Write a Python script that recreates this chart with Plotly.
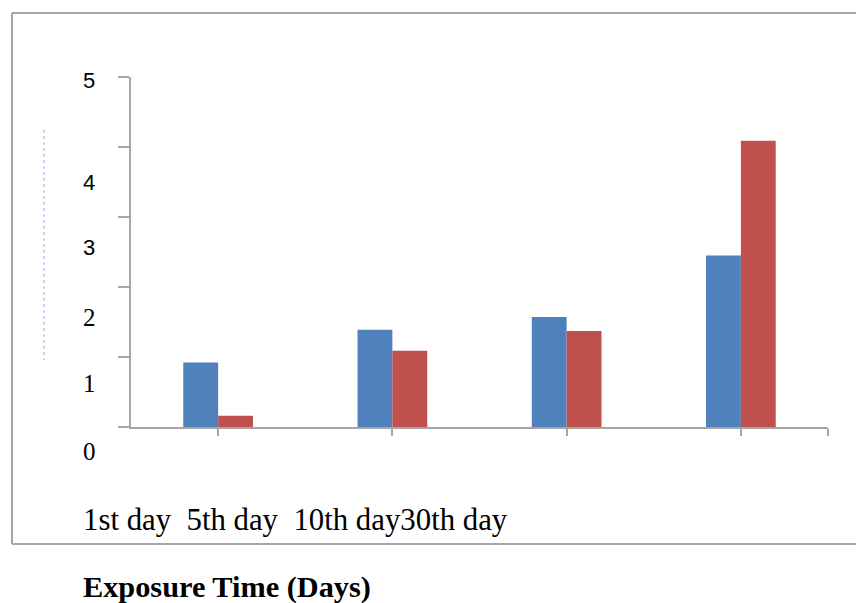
import plotly.graph_objects as go

categories = ["1st day", "5th day", "10th day", "30th day"]
series_a = [0.92, 1.39, 1.57, 2.45]
series_b = [0.16, 1.09, 1.37, 4.09]
y_ticks = [0, 1, 2, 3, 4, 5]
y_tick_text = ["0", "1", "2", "3", "4", "5"]
x_label_text = "1st day  5th day  10th day30th day"
x_title = "Exposure Time (Days)"

OFF = 8  # page body margin
W, H = 864 - OFF, 603 - OFF
L, R, T, B = 131 - OFF, 36, 77 - OFF, 176
pw, ph = W - L - R, H - T - B

def px(x):
    return (x - OFF - L) / pw

def py(y):
    return (H - B - (y - OFF)) / ph

xs = list(range(len(categories)))

fig = go.Figure()
fig.add_trace(go.Bar(x=xs, y=series_a, marker=dict(color="#4F81BD", line=dict(width=0)), name="A"))
fig.add_trace(go.Bar(x=xs, y=series_b, marker=dict(color="#C0504D", line=dict(width=0)), name="B"))

# y tick labels (offset like the original), screen pixel positions
label_pos = [451, 383, 317, 247, 182, 80]
fonts = [("Liberation Serif", 25)] * 3 + [("Liberation Sans", 22)] * 3
annotations = []
for t, yp, (f, s) in zip(y_tick_text, label_pos, fonts):
    annotations.append(dict(x=px(89), xref="paper", y=py(yp), yref="paper", text=t, showarrow=False,
                            font=dict(family=f, size=s, color="#000"), xanchor="center", yanchor="middle"))
annotations.append(dict(x=px(81), xref="paper", y=py(520), yref="paper", text=x_label_text, showarrow=False,
                        font=dict(family="Liberation Serif", size=30.8, color="#000"), xanchor="left", yanchor="middle"))
annotations.append(dict(x=px(81), xref="paper", y=py(587), yref="paper", text="<b>" + x_title + "</b>", showarrow=False,
                        font=dict(family="Liberation Serif", size=30.3, color="#000"), xanchor="left", yanchor="middle"))

shapes = [
    dict(type="line", xref="paper", yref="paper", x0=px(12), x1=px(880), y0=py(13), y1=py(13), line=dict(color="#A6A6A6", width=2)),
    dict(type="line", xref="paper", yref="paper", x0=px(12), x1=px(12), y0=py(13), y1=py(544), line=dict(color="#A6A6A6", width=2)),
    dict(type="line", xref="paper", yref="paper", x0=px(12), x1=px(880), y0=py(544), y1=py(544), line=dict(color="#A6A6A6", width=2)),
    dict(type="line", xref="paper", yref="paper", x0=px(44), x1=px(44), y0=py(130), y1=py(360), line=dict(color="#8DB3E2", width=1, dash="dot")),
]

fig.update_layout(
    width=W, height=H,
    margin=dict(l=L, r=R, t=T, b=B),
    paper_bgcolor="white", plot_bgcolor="white",
    barmode="group", bargap=0.6, bargroupgap=0,
    showlegend=False,
    annotations=annotations,
    shapes=shapes,
    xaxis=dict(range=[-0.5, 3.5], tickvals=[0, 1, 2, 3, 3.5], ticktext=["", "", "", "", ""],
               showline=True, linecolor="#A6A6A6", linewidth=2, ticks="outside", ticklen=7,
               tickcolor="#A6A6A6", tickwidth=2, showgrid=False, zeroline=False),
    yaxis=dict(range=[0, 5], tickvals=y_ticks, showticklabels=False,
               showline=True, linecolor="#A6A6A6", linewidth=2, ticks="outside", ticklen=11,
               tickcolor="#A6A6A6", tickwidth=2, showgrid=False, zeroline=False),
)

fig.write_html("out.html")
